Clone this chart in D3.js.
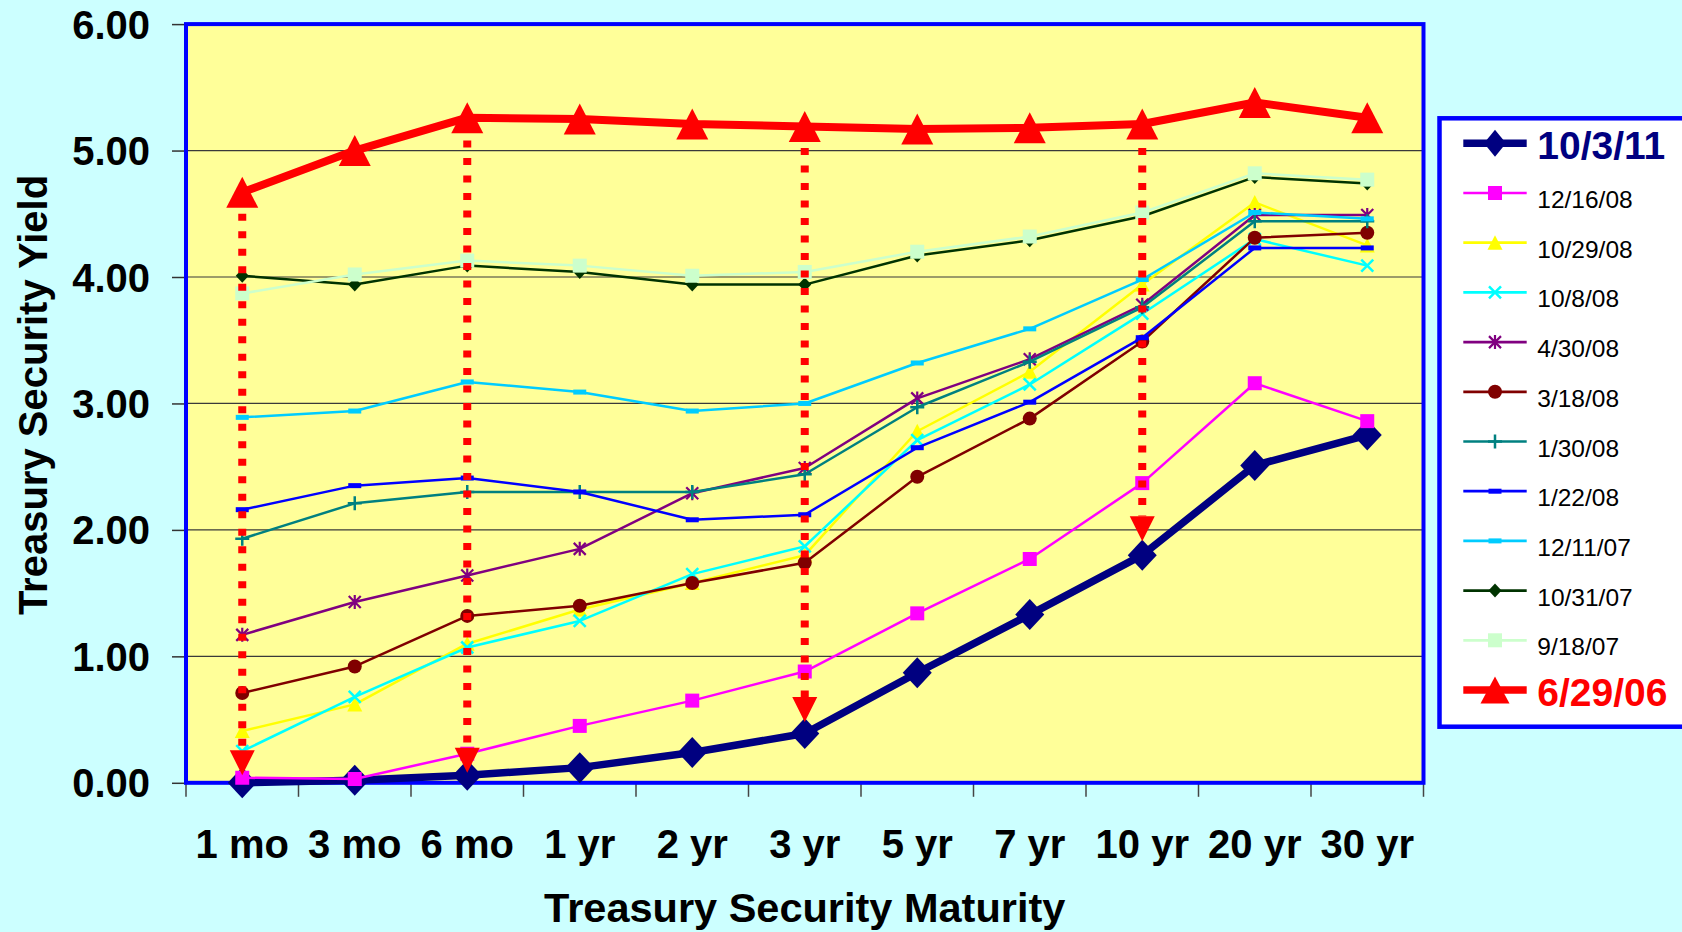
<!DOCTYPE html>
<html><head><meta charset="utf-8">
<script src="https://cdn.jsdelivr.net/npm/d3@7"></script>
<style>html,body{margin:0;padding:0;background:#CCFFFF;overflow:hidden}svg{display:block}</style>
</head><body><svg id="c" width="1682" height="932"></svg>
<script>
// ---------------- data ----------------
const categories = ["1 mo","3 mo","6 mo","1 yr","2 yr","3 yr","5 yr","7 yr","10 yr","20 yr","30 yr"];
const yTicks = [0,1,2,3,4,5,6];
const seriesNames = ["10/3/11","12/16/08","10/29/08","10/8/08","4/30/08","3/18/08","1/30/08","1/22/08","12/11/07","10/31/07","9/18/07","6/29/06"];
const y_10_3_11  = [0.00,0.02,0.06,0.12,0.24,0.39,0.87,1.33,1.80,2.51,2.75];
const y_12_16_08 = [0.04,0.03,0.23,0.45,0.65,0.88,1.34,1.77,2.37,3.16,2.86];
const y_10_29_08 = [0.41,0.62,1.10,1.37,1.58,1.80,2.78,3.25,3.94,4.59,4.25];
const y_10_8_08  = [0.25,0.68,1.07,1.28,1.65,1.87,2.71,3.15,3.71,4.30,4.09];
const y_4_30_08  = [1.17,1.43,1.64,1.85,2.29,2.49,3.04,3.35,3.78,4.49,4.49];
const y_3_18_08  = [0.71,0.92,1.32,1.40,1.58,1.74,2.42,2.88,3.49,4.31,4.35];
const y_1_30_08  = [1.93,2.21,2.30,2.30,2.30,2.44,2.97,3.33,3.76,4.44,4.44];
const y_1_22_08  = [2.16,2.35,2.41,2.30,2.08,2.12,2.65,3.01,3.52,4.23,4.23];
const y_12_11_07 = [2.89,2.94,3.17,3.09,2.94,3.00,3.32,3.59,3.98,4.51,4.46];
const y_10_31_07 = [4.01,3.94,4.09,4.04,3.94,3.94,4.17,4.29,4.48,4.79,4.74];
const y_9_18_07  = [3.87,4.02,4.13,4.09,4.01,4.04,4.20,4.32,4.51,4.82,4.77];
const y_6_29_06  = [4.67,5.00,5.26,5.25,5.21,5.19,5.17,5.18,5.21,5.38,5.26];
// red dotted arrows (yield at start and at arrow tip)
const arrowCats = ["1 mo","6 mo","3 yr","10 yr"];
const arrowFrom = [4.50,5.08,5.02,5.02];
const arrowTo   = [0.06,0.08,0.48,1.91];

const valuesList = [y_10_3_11,y_12_16_08,y_10_29_08,y_10_8_08,y_4_30_08,y_3_18_08,y_1_30_08,y_1_22_08,y_12_11_07,y_10_31_07,y_9_18_07,y_6_29_06];
const styles = [
  {color:"#000080", width:7.5, marker:"bigDiamond", bold:true},
  {color:"#FF00FF", width:2.5, marker:"square"},
  {color:"#FFFF00", width:2.5, marker:"triangle"},
  {color:"#00FFFF", width:2.5, marker:"x"},
  {color:"#800080", width:2.5, marker:"star"},
  {color:"#800000", width:2.5, marker:"circle"},
  {color:"#008080", width:2.5, marker:"plus"},
  {color:"#0000FF", width:2.5, marker:"dash"},
  {color:"#00CCFF", width:2.5, marker:"dash"},
  {color:"#003300", width:2.5, marker:"diamond"},
  {color:"#CCFFCC", width:2.5, marker:"square"},
  {color:"#FF0000", width:8, marker:"bigTriangle", bold:true}
];
const series = seriesNames.map((n,i)=>Object.assign({name:n, values:valuesList[i]}, styles[i]));

// ---------------- layout ----------------
const FONT = "'Liberation Sans', Arial, Helvetica, sans-serif";
const svg = d3.select("#c");
svg.append("rect").attr("width",1682).attr("height",932).attr("fill","#CCFFFF");

const L = 186, R = 1423.5, T = 24.1, B = 782.8;
const x = d3.scaleBand().domain(categories).range([L,R]).padding(0);
const cx = c => x(c) + x.bandwidth()/2;
const y = d3.scaleLinear().domain([0,6]).range([B,T]);

// plot background
svg.append("rect").attr("x",L).attr("y",T).attr("width",R-L).attr("height",B-T).attr("fill","#FFFF99");

// gridlines
svg.append("g").selectAll("line").data(yTicks.filter(d=>d>0&&d<6)).join("line")
  .attr("x1",L).attr("x2",R).attr("y1",d=>y(d)).attr("y2",d=>y(d))
  .attr("stroke","#3a3a3a").attr("stroke-width",1.2);

// y axis
const yAxis = svg.append("g").attr("transform",`translate(${L},0)`)
  .call(d3.axisLeft(y).tickValues(yTicks).tickFormat(d3.format(".2f")).tickSize(14).tickPadding(22));
yAxis.select(".domain").remove();
yAxis.selectAll(".tick line").attr("stroke","#333").attr("stroke-width",1.5);
yAxis.selectAll("text").attr("font-family",FONT).attr("font-size",40).attr("font-weight","bold")
  .attr("fill","#000").attr("dy","0.35em");

// x axis labels
const xAxis = svg.append("g").attr("transform",`translate(0,${B})`)
  .call(d3.axisBottom(x).tickSize(0));
xAxis.select(".domain").remove();
xAxis.selectAll("text").attr("font-family",FONT).attr("font-size",40).attr("font-weight","bold")
  .attr("fill","#000").attr("y",75).attr("dy",0);
// boundary ticks
svg.append("g").selectAll("line").data(d3.range(categories.length+1)).join("line")
  .attr("x1",i=>L+i*x.step()).attr("x2",i=>L+i*x.step())
  .attr("y1",B).attr("y2",B+14).attr("stroke","#444").attr("stroke-width",1.5);

// plot border
svg.append("rect").attr("x",L).attr("y",T).attr("width",R-L).attr("height",B-T)
  .attr("fill","none").attr("stroke","#0000FF").attr("stroke-width",4);

// axis titles
svg.append("text").attr("transform",`translate(46.7,395) rotate(-90)`)
  .attr("text-anchor","middle").attr("font-family",FONT).attr("font-size",40).attr("font-weight","bold")
  .attr("fill","#000").text("Treasury Security Yield");
svg.append("text").attr("x",(L+R)/2).attr("y",922)
  .attr("text-anchor","middle").attr("font-family",FONT).attr("font-size",41.5).attr("font-weight","bold")
  .attr("fill","#000").text("Treasury Security Maturity");

// ---------------- markers ----------------
function marker(g, type, color, px, py, legend){
  switch(type){
    case "bigDiamond": {
      const w = legend?22:29, h = legend?27:31;
      g.append("path").attr("d",`M${px},${py-h/2}L${px+w/2},${py}L${px},${py+h/2}L${px-w/2},${py}Z`).attr("fill",color); break; }
    case "bigTriangle": {
      const w = legend?29:32, h = legend?27:31;
      g.append("path").attr("d",`M${px},${py-h/2}L${px+w/2},${py+h/2}L${px-w/2},${py+h/2}Z`).attr("fill",color); break; }
    case "diamond": {
      const w = 13, h = 14;
      g.append("path").attr("d",`M${px},${py-h/2}L${px+w/2},${py}L${px},${py+h/2}L${px-w/2},${py}Z`).attr("fill",color); break; }
    case "square":
      g.append("rect").attr("x",px-7).attr("y",py-7).attr("width",14).attr("height",14).attr("fill",color); break;
    case "triangle":
      g.append("path").attr("d",`M${px},${py-7.5}L${px+7.5},${py+7}L${px-7.5},${py+7}Z`).attr("fill",color); break;
    case "circle":
      g.append("circle").attr("cx",px).attr("cy",py).attr("r",7).attr("fill",color); break;
    case "x":
      g.append("path").attr("d",`M${px-6},${py-6}L${px+6},${py+6}M${px+6},${py-6}L${px-6},${py+6}`)
        .attr("stroke",color).attr("stroke-width",2.5).attr("fill","none"); break;
    case "star":
      g.append("path").attr("d",`M${px-6},${py-6}L${px+6},${py+6}M${px+6},${py-6}L${px-6},${py+6}M${px},${py-7}L${px},${py+7}`)
        .attr("stroke",color).attr("stroke-width",2.2).attr("fill","none"); break;
    case "plus":
      g.append("path").attr("d",`M${px-7},${py}L${px+7},${py}M${px},${py-7}L${px},${py+7}`)
        .attr("stroke",color).attr("stroke-width",2.5).attr("fill","none"); break;
    case "dash":
      g.append("rect").attr("x",px-6.5).attr("y",py-2.5).attr("width",13).attr("height",5).attr("fill",color); break;
  }
}

// ---------------- series ----------------
const line = d3.line().x(d=>cx(d.c)).y(d=>y(d.v));
const plotG = svg.append("g");
series.forEach(s=>{
  const pts = s.values.map((v,i)=>({c:categories[i], v}));
  const g = plotG.append("g");
  g.append("path").datum(pts).attr("d",line).attr("fill","none")
    .attr("stroke",s.color).attr("stroke-width",s.width).attr("stroke-linejoin","round");
  pts.forEach(p=>marker(g, s.marker, s.color, cx(p.c), y(p.v), false));
});

// ---------------- red dotted arrows ----------------
const arrG = svg.append("g");
arrowCats.forEach((c,i)=>{
  const ax = cx(c), y0 = y(arrowFrom[i]), tip = y(arrowTo[i]), base = tip - 25;
  arrG.append("line").attr("x1",ax).attr("x2",ax).attr("y1",y0).attr("y2",base)
    .attr("stroke","#FF0000").attr("stroke-width",8).attr("stroke-dasharray","7,10.5");
  arrG.append("path").attr("d",`M${ax-12.5},${base}L${ax+12.5},${base}L${ax},${tip}Z`).attr("fill","#FF0000");
});

// ---------------- legend ----------------
const lg = svg.append("g");
lg.append("rect").attr("x",1439.5).attr("y",118.3).attr("width",300).attr("height",608.4)
  .attr("fill","#FFFFFF").attr("stroke","#0000FF").attr("stroke-width",4.5);
series.forEach((s,i)=>{
  const ry = 143.3 + i*49.7;
  const g = lg.append("g");
  g.append("line").attr("x1",1463.3).attr("x2",1526.7).attr("y1",ry).attr("y2",ry)
    .attr("stroke",s.color).attr("stroke-width",s.bold?7.5:2.7);
  marker(g, s.marker, s.color, 1495, ry, true);
  g.append("text").attr("x",1537.3).attr("y",ry + (s.bold?16:15))
    .attr("font-family",FONT).attr("font-size",s.bold?39:24.5).attr("font-weight",s.bold?"bold":"normal")
    .attr("fill",s.bold?s.color:"#000").text(s.name);
});
</script>
</body></html>
